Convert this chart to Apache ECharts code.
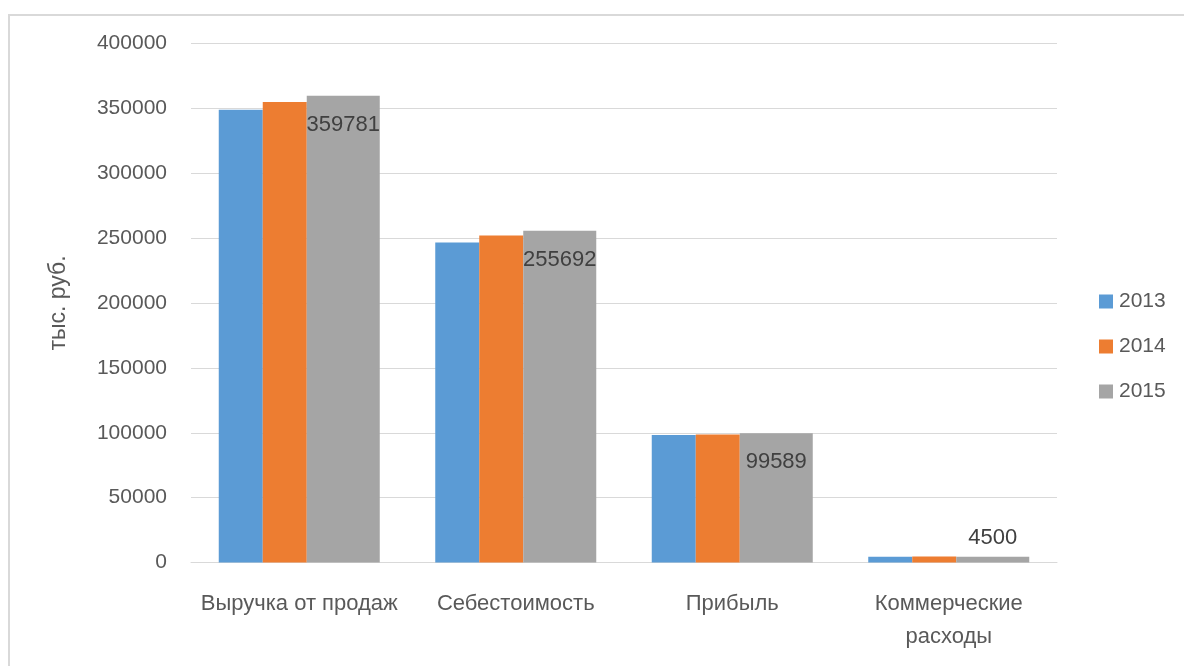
<!DOCTYPE html>
<html>
<head>
<meta charset="utf-8">
<script src="https://cdn.jsdelivr.net/npm/echarts@6/dist/echarts.min.js"></script>
<style>html,body{margin:0;padding:0;background:#fff;}#c{width:1184px;height:666px;}</style>
</head>
<body>
<div id="c"></div>
<script>
const categories = ['Выручка от продаж', 'Себестоимость', 'Прибыль', 'Коммерческие\nрасходы'];
const years = ['2013', '2014', '2015'];
const values2013 = [349000, 246700, 98200, 4400];
const values2014 = [355000, 252000, 98700, 4600];
const values2015 = [359781, 255692, 99589, 4500];
const yTicks = [0, 50000, 100000, 150000, 200000, 250000, 300000, 350000, 400000];
const yTitle = 'тыс. руб.';

const colors = ['#5b9bd5', '#ed7d31', '#a5a5a5'];
const font = 'Liberation Sans, Arial, sans-serif';
const maxVal = yTicks[yTicks.length - 1];

const chart = echarts.init(document.getElementById('c'));
const labelled = values2015.map(v => {
  const small = v < maxVal * 0.05;
  return {
    value: v,
    label: small
      ? { show: true, position: 'top', distance: 8 }
      : { show: true, position: 'insideTop', distance: 18 }
  };
});

chart.setOption({
  animation: false,
  color: colors,
  graphic: [{
    type: 'rect', silent: true,
    shape: { x: 9, y: 15, width: 1200, height: 700 },
    style: { fill: 'none', stroke: '#d9d9d9', lineWidth: 2 }
  }],
  grid: { left: 191, right: 127, top: 43.5, bottom: 103.5 },
  legend: {
    orient: 'vertical', left: 1094, top: 286,
    itemWidth: 14, itemHeight: 14, itemGap: 24,
    icon: 'rect',
    textStyle: { color: '#595959', fontSize: 21, fontFamily: font, padding: [0, 0, 0, 1] },
    data: years
  },
  xAxis: {
    type: 'category', data: categories,
    axisLine: { lineStyle: { color: '#d9d9d9', width: 1 } },
    axisTick: { show: false },
    axisLabel: { color: '#595959', fontSize: 22, fontFamily: font, margin: 25, lineHeight: 33, interval: 0 }
  },
  yAxis: {
    type: 'value', min: 0, max: maxVal, interval: yTicks[1] - yTicks[0],
    name: yTitle, nameLocation: 'middle', nameGap: 121,
    nameTextStyle: { color: '#595959', fontSize: 23, fontFamily: font },
    axisLine: { show: false }, axisTick: { show: false },
    splitLine: { lineStyle: { color: '#d9d9d9', width: 1 } },
    axisLabel: { color: '#595959', fontSize: 21, fontFamily: font, margin: 24, formatter: v => String(v) }
  },
  series: [
    { name: years[0], type: 'bar', data: values2013, barWidth: 44, barGap: '0%' },
    { name: years[1], type: 'bar', data: values2014, barWidth: 44, barGap: '0%' },
    { name: years[2], type: 'bar', data: labelled, barWidth: 73, barGap: '0%',
      label: { show: true, color: '#404040', fontSize: 22, fontFamily: font } }
  ]
});
</script>
</body>
</html>
